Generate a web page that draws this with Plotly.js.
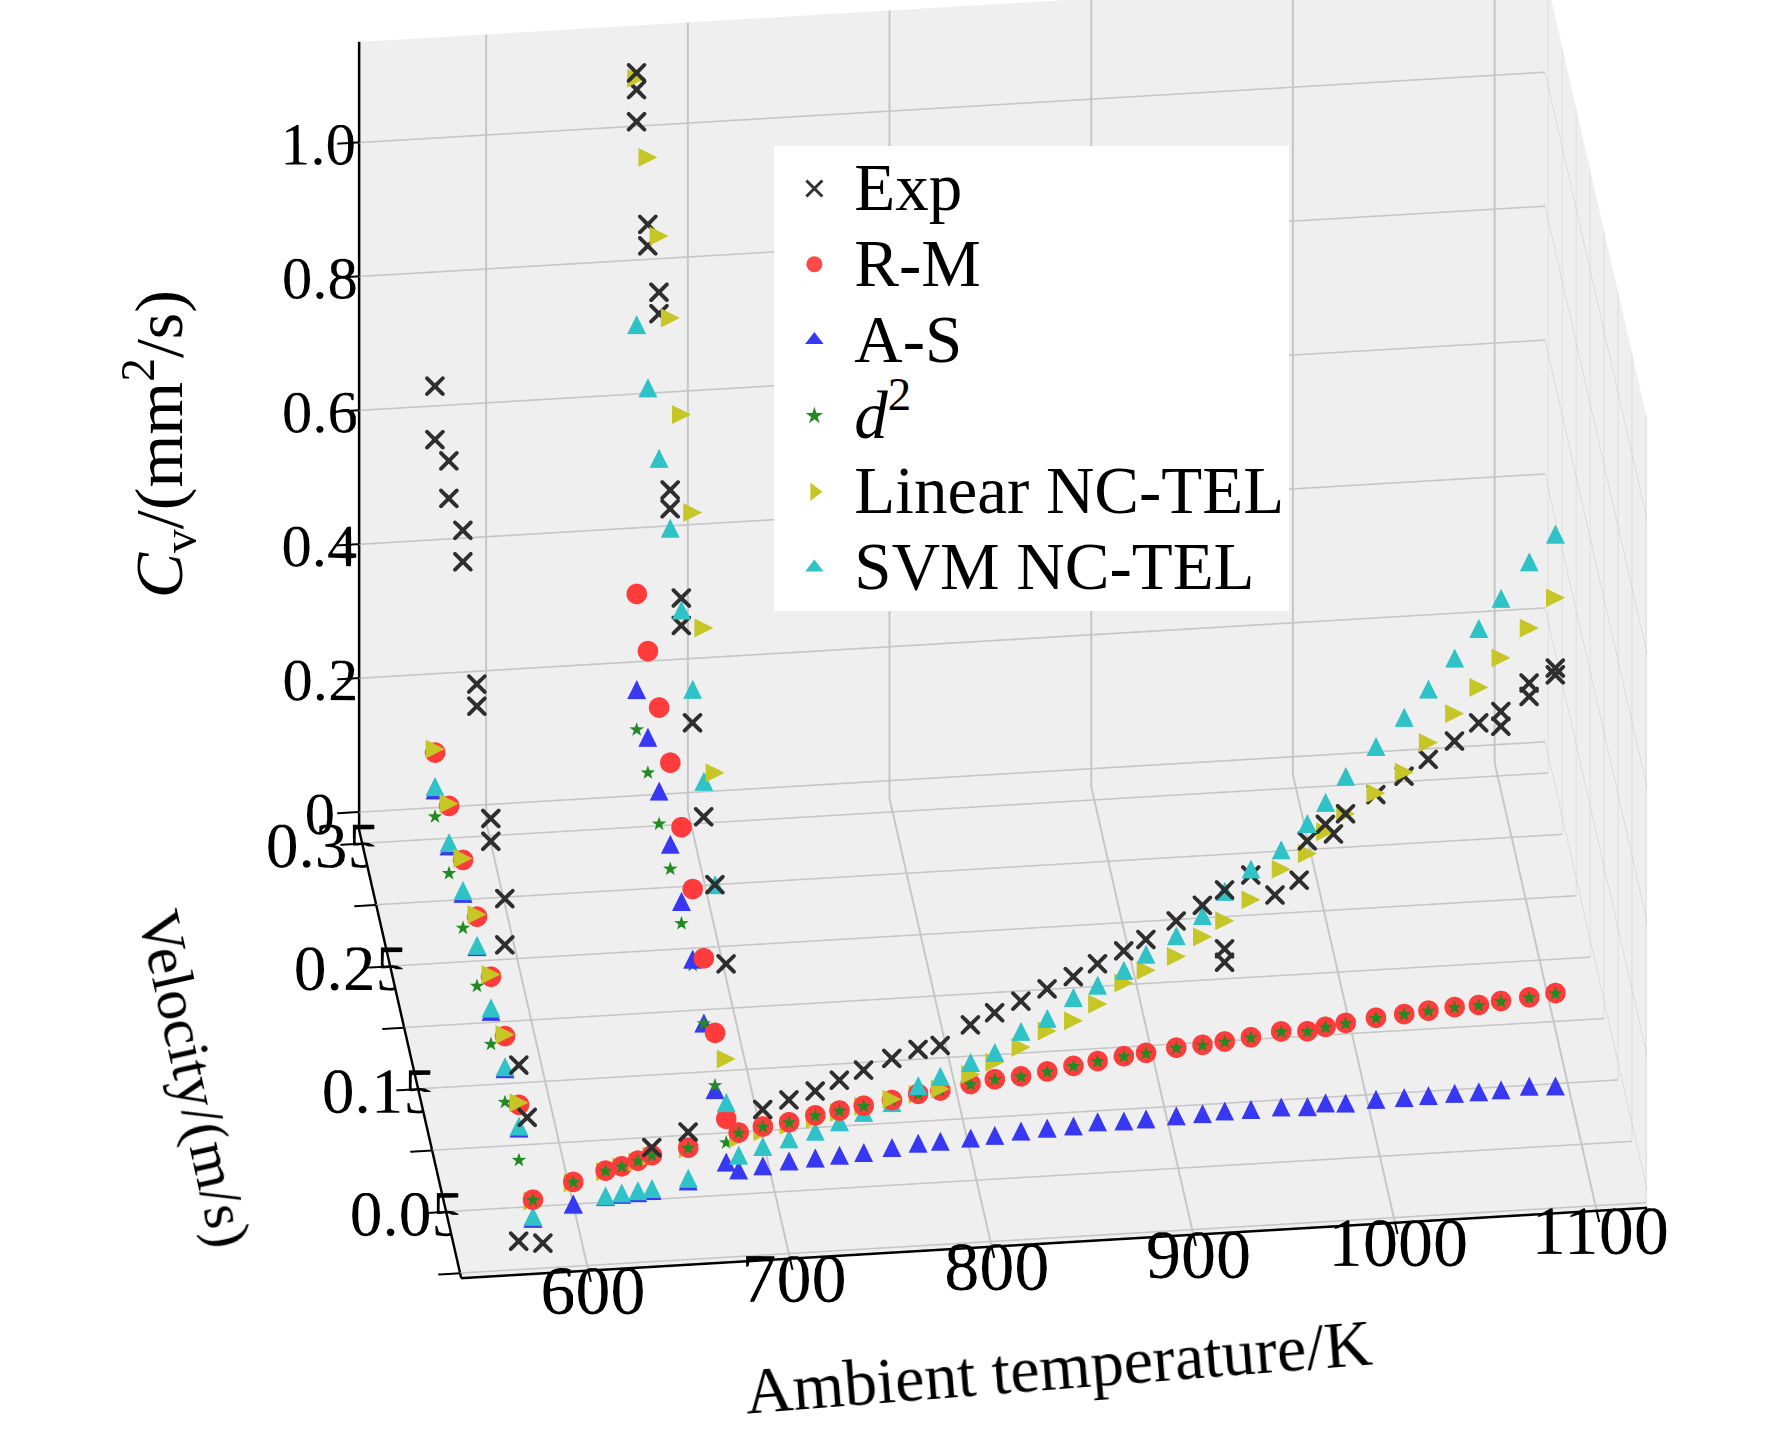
<!DOCTYPE html>
<html>
<head>
<meta charset="utf-8">
<script src="https://cdn.plot.ly/plotly-3.0.1.min.js"></script>
<style>
  html, body { margin: 0; padding: 0; background: #fff; overflow: hidden; }
  #chart { width: 1772px; height: 1441px; }
</style>
</head>
<body>
<div id="chart"></div>
<script>
// ---- data ----
// group at 573 K, velocity sweep
const tempA = 573;
const velA = [0.35, 0.30, 0.25, 0.20, 0.15, 0.10, 0.05];
const rmA  = [0.103, 0.115, 0.126, 0.133, 0.135, 0.138, 0.127];
const linA = [0.108, 0.118, 0.128, 0.136, 0.138, 0.140, 0.130];
const asA  = [0.047, 0.055, 0.076, 0.088, 0.083, 0.089, 0.092];
const svmA = [0.052, 0.060, 0.080, 0.090, 0.088, 0.092, 0.095];
const d2A  = [0.008, 0.015, 0.025, 0.030, 0.035, 0.040, 0.045];
const velExpA = [0.35, 0.35, 0.30, 0.30, 0.25, 0.25, 0.20, 0.20, 0.15, 0.15, 0.10, 0.10, 0.05, 0.02];
const expA    = [0.65, 0.57, 0.63, 0.574, 0.618, 0.571, 0.48, 0.447, 0.371, 0.337, 0.343, 0.274, 0.186, 0.163];

// group at 673 K, velocity sweep
const tempB = 673;
const velB = [0.35, 0.31, 0.27, 0.23, 0.19, 0.15, 0.11, 0.07, 0.03];
const rmB  = [0.322, 0.310, 0.299, 0.290, 0.267, 0.248, 0.218, 0.180, 0.125];
const asB  = [0.179, 0.181, 0.174, 0.168, 0.156, 0.143, 0.121, 0.095, 0.060];
const d2B  = [0.120, 0.129, 0.126, 0.132, 0.124, 0.135, 0.121, 0.102, 0.090];
const linB = [1.092, 1.047, 1.003, 0.954, 0.883, 0.810, 0.711, 0.568, 0.214];
const svmB = [0.724, 0.703, 0.671, 0.640, 0.591, 0.546, 0.482, 0.401, 0.149];
const velExpB = [0.35, 0.35, 0.35, 0.31, 0.31, 0.27, 0.27, 0.23, 0.23, 0.19, 0.19, 0.15, 0.11, 0.07, 0.03];
const expB    = [1.10, 1.075, 1.027, 0.947, 0.915, 0.919, 0.887, 0.697, 0.669, 0.609, 0.568, 0.496, 0.429, 0.401, 0.356];

// temperature sweep at zero velocity
const velLine = 0.0;
const tLine = [573, 593, 609, 617, 625, 632, 650, 675, 687, 700, 713, 725, 737, 751, 764, 775, 790,
  802, 815, 828, 841, 853, 866, 877, 892, 905, 916, 929, 944, 957, 966, 976, 991, 1005, 1017, 1030,
  1042, 1053, 1067, 1080];
const rmLine = [0.077, 0.100, 0.114, 0.119, 0.126, 0.133, 0.141, 0.159, 0.166, 0.170, 0.178, 0.183,
  0.188, 0.194, 0.201, 0.204, 0.211, 0.216, 0.218, 0.223, 0.229, 0.234, 0.239, 0.242, 0.247, 0.249,
  0.252, 0.256, 0.262, 0.260, 0.265, 0.269, 0.274, 0.277, 0.280, 0.283, 0.284, 0.288, 0.291, 0.295];
const d2Line = [0.077, 0.100, 0.114, 0.119, 0.126, 0.133, 0.141, 0.159, 0.166, 0.170, 0.178, 0.183,
  0.188, 0.194, 0.201, 0.204, 0.211, 0.216, 0.218, 0.223, 0.229, 0.234, 0.239, 0.242, 0.247, 0.249,
  0.252, 0.256, 0.262, 0.260, 0.265, 0.269, 0.274, 0.277, 0.280, 0.283, 0.284, 0.288, 0.291, 0.295];
const asLine = [0.049, 0.067, 0.075, 0.077, 0.078, 0.080, 0.091, 0.103, 0.107, 0.112, 0.114, 0.116,
  0.118, 0.123, 0.127, 0.128, 0.130, 0.132, 0.136, 0.138, 0.139, 0.143, 0.142, 0.143, 0.145, 0.146,
  0.148, 0.148, 0.149, 0.147, 0.151, 0.149, 0.152, 0.152, 0.153, 0.154, 0.154, 0.155, 0.158, 0.156];
const svmLine = [0.052, 0.066, 0.076, 0.079, 0.081, 0.083, 0.095, 0.125, 0.136, 0.145, 0.154, 0.166,
  0.178, 0.190, 0.213, 0.225, 0.243, 0.256, 0.285, 0.302, 0.331, 0.347, 0.367, 0.389, 0.414, 0.442,
  0.476, 0.507, 0.533, 0.570, 0.600, 0.637, 0.679, 0.720, 0.760, 0.804, 0.846, 0.889, 0.941, 0.980];
const linLine = [0.075, 0.098, 0.112, 0.118, 0.124, 0.131, 0.139, 0.150, 0.158, 0.165, 0.172, 0.180,
  0.187, 0.195, 0.200, 0.206, 0.225, 0.241, 0.261, 0.283, 0.296, 0.319, 0.348, 0.365, 0.383, 0.410,
  0.432, 0.461, 0.504, 0.525, 0.556, 0.581, 0.609, 0.638, 0.680, 0.721, 0.758, 0.800, 0.842, 0.885];
const tExpLine = [566, 578, 632, 650, 687, 700, 713, 725, 737, 751, 764, 775, 790, 802, 815, 828, 841,
  853, 866, 877, 892, 905, 916, 916, 916, 929, 941, 953, 957, 966, 970, 976, 991, 1005, 1017, 1030,
  1042, 1053, 1053, 1067, 1067, 1080, 1080];
const expLine = [0.016, 0.011, 0.144, 0.164, 0.191, 0.203, 0.214, 0.228, 0.241, 0.256, 0.267, 0.271,
  0.299, 0.315, 0.330, 0.346, 0.362, 0.379, 0.396, 0.411, 0.436, 0.457, 0.478, 0.390, 0.370, 0.498,
  0.466, 0.486, 0.544, 0.567, 0.552, 0.581, 0.607, 0.632, 0.655, 0.680, 0.705, 0.720, 0.698, 0.740,
  0.760, 0.770, 0.780];

const xTicks = [600, 700, 800, 900, 1000, 1100];
const yTicks = [0, 0.05, 0.10, 0.15, 0.20, 0.25, 0.30, 0.35];
const yTickText = ['', '0.05', '', '0.15', '', '0.25', '', '0.35'];
const zTicks = [0, 0.2, 0.4, 0.6, 0.8, 1.0];
const zTickText = ['0', '0.2', '0.4', '0.6', '0.8', '1.0'];

// stack the groups of one series into x/y/z columns
function build(parts) {
  const xs = [], ys = [], zs = [];
  parts.forEach(function (p) {
    const t = p[0], v = p[1], c = p[2];
    c.forEach(function (val, i) {
      xs.push(Array.isArray(t) ? t[i] : t);
      ys.push(Array.isArray(v) ? v[i] : v);
      zs.push(val);
    });
  });
  return { x: xs, y: ys, z: zs };
}

const serif = 'Liberation Serif, Times New Roman, serif';

const exp = build([[tempA, velExpA, expA], [tempB, velExpB, expB], [tExpLine, velLine, expLine]]);
const rm  = build([[tempA, velA, rmA], [tempB, velB, rmB], [tLine, velLine, rmLine]]);
const as  = build([[tempA, velA, asA], [tempB, velB, asB], [tLine, velLine, asLine]]);
const d2  = build([[tempA, velA, d2A], [tempB, velB, d2B], [tLine, velLine, d2Line]]);
const lin = build([[tempA, velA, linA], [tempB, velB, linB], [tLine, velLine, linLine]]);
const svm = build([[tempA, velA, svmA], [tempB, velB, svmB], [tLine, velLine, svmLine]]);

function glyphTrace(s, glyph, color, size) {
  return {
    type: 'scatter3d', mode: 'text', x: s.x, y: s.y, z: s.z,
    text: glyph, textposition: 'middle center',
    textfont: { family: 'DejaVu Sans', size: size, color: color },
    showlegend: false, hoverinfo: 'skip'
  };
}

const traces3d = [
  { type: 'scatter3d', mode: 'markers', x: rm.x, y: rm.y, z: rm.z,
    marker: { symbol: 'circle', size: 12, color: '#ff3b3b' }, showlegend: false, hoverinfo: 'skip' },
  glyphTrace(as, '\u25B2', '#3838f2', 25),
  glyphTrace(svm, '\u25B2', '#2fc3c7', 25),
  glyphTrace(lin, '\u25B6', '#c6c626', 25),
  glyphTrace(d2, '\u2605', '#228a22', 19),
  { type: 'scatter3d', mode: 'markers', x: exp.x, y: exp.y, z: exp.z,
    marker: { symbol: 'x', size: 4.5, color: '#2e2e2e' }, showlegend: false, hoverinfo: 'skip' }
];

// legend only entries (2D, no data drawn)
function legendEntry(name, symbol, color, size) {
  return { type: 'scatter', mode: 'markers', x: [null], y: [null],
    name: '<span style="font-size:67px">' + name + '</span>',
    marker: { symbol: symbol, color: color, size: size }, hoverinfo: 'skip' };
}
const legendTraces = [
  legendEntry('Exp', 'x-thin-open', '#333333', 16),
  legendEntry('R-M', 'circle', '#ff4a4a', 16),
  legendEntry('A-S', 'triangle-up', '#3838f2', 16),
  legendEntry('<i>d</i><sup>2</sup>', 'star', '#228a22', 13),
  legendEntry('Linear NC-TEL', 'triangle-right', '#c6c626', 16),
  legendEntry('SVM NC-TEL', 'triangle-up', '#2fc3c7', 16)
];
legendTraces[0].marker.line = { color: '#333333', width: 3 };

function axis3d(extra) {
  return Object.assign({
    title: { text: '' },
    tickangle: 0,
    showline: true, linecolor: '#000', linewidth: 5,
    ticks: 'outside', ticklen: 22, tickwidth: 4, tickcolor: '#000',
    showgrid: true, gridcolor: '#c6c6c6', gridwidth: 4,
    showbackground: true, backgroundcolor: '#efefef',
    zeroline: false, showspikes: false
  }, extra);
}

// axis titles, laid along the projected axes
function axisTitle(text, x, y, angle, size) {
  return { text: text, xref: 'paper', yref: 'paper', x: x, y: y,
    xanchor: 'center', yanchor: 'middle', textangle: angle, showarrow: false,
    font: { family: serif, size: size, color: '#000' } };
}

const layout = {
  width: 1772, height: 1441,
  margin: { l: 0, r: 0, t: 0, b: 0 },
  paper_bgcolor: '#fff', plot_bgcolor: '#fff',
  hovermode: false,
  font: { family: serif, color: '#000' },
  xaxis: { visible: false, domain: [0, 0.01] },
  yaxis: { visible: false, domain: [0, 0.01] },
  legend: {
    x: 0.437, y: 0.899, xanchor: 'left', yanchor: 'top',
    bgcolor: '#fff', borderwidth: 0, itemwidth: 70,
    font: { family: serif, size: 56, color: '#000' }
  },
  annotations: [
    axisTitle('Ambient temperature/K', 0.5976, 0.052, -4.5, 66),
    axisTitle('Velocity/(m/s)', 0.110, 0.2512, 77.5, 60),
    axisTitle('<i>C</i><sub>v</sub>/(mm<sup>2</sup>/s)', 0.090, 0.692, -90, 68)
  ],
  scene: {
    domain: { x: [0, 1], y: [0, 1] },
    aspectmode: 'manual',
    aspectratio: { x: 1.657, y: 1.227, z: 1.272 },
    camera: {
      eye: { x: -0.4275, y: -2.2694, z: 1.2127 },
      center: { x: -0.1693, y: -0.0485, z: -0.1141 },
      up: { x: 0, y: 0, z: 1 },
      projection: { type: 'orthographic' }
    },
    xaxis: axis3d({ range: [537, 1125], tickvals: xTicks,
      tickfont: { family: serif, size: 29, color: '#000' } }),
    yaxis: axis3d({ range: [-0.004, 0.361], tickvals: yTicks, ticktext: yTickText,
      tickfont: { family: serif, size: 28, color: '#000' } }),
    zaxis: axis3d({ range: [-0.027, 1.15], tickvals: zTicks, ticktext: zTickText,
      tickfont: { family: serif, size: 27, color: '#000' } })
  }
};

Plotly.newPlot('chart', traces3d.concat(legendTraces), layout, { displayModeBar: false });
</script>
</body>
</html>
